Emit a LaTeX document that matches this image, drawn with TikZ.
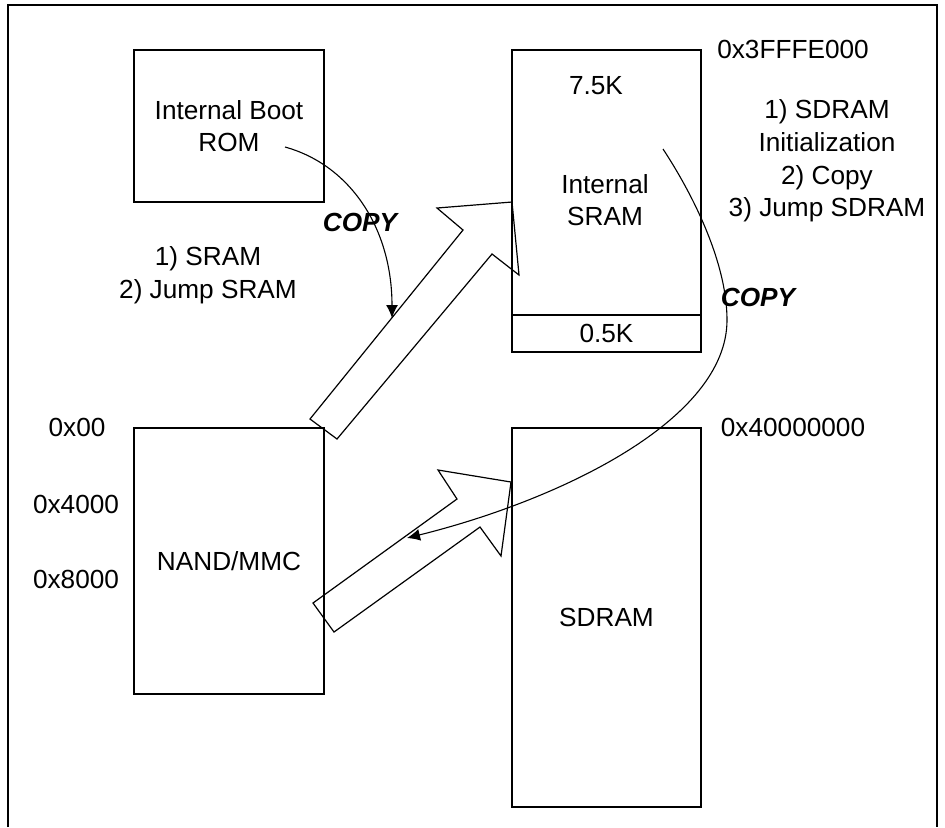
\documentclass[tikz,border=0pt]{standalone}
\usepackage{fontspec}
\setmainfont{Liberation Sans}
\usetikzlibrary{arrows.meta}
\newcommand{\labelsize}{\fontsize{13.1pt}{16.3pt}\selectfont}
\tikzset{
  membox/.style={draw,line width=0.8pt,inner sep=0pt,align=center},
  flow/.style={line width=0.55pt,-{Latex[length=6.5pt,width=6pt]}},
  bigarrow/.style={line width=0.6pt,line join=miter},
  copylabel/.style={font=\labelsize\bfseries\itshape},
}
\begin{document}
\begin{tikzpicture}[x=0.5pt,y=-0.5pt,font=\labelsize]
    \useasboundingbox (0,0) rectangle (945,827);
    % frame
    \draw[line width=1.2pt] (8,827) -- (8,5) -- (937,5) -- (937,827);
    % memories
    \node[membox,minimum width=95pt,minimum height=76pt] (rom) at (229,126) {Internal Boot\\ROM};
    \node[membox,minimum width=94.5pt,minimum height=132.5pt] (sram) at (606.5,182.5) {};
    \node[membox,minimum width=94.5pt,minimum height=18.5pt] (sramlow) at (606.5,333.5) {0.5K};
    \node[membox,minimum width=95pt,minimum height=133pt] (nand) at (229,561) {NAND/MMC};
    \node[membox,minimum width=94.5pt,minimum height=189.5pt] (sdram) at (606.5,617.5) {SDRAM};
    \node (sramtop) at (596,86) {7.5K};
    \node[align=center] (sramname) at (605,200) {Internal\\SRAM};
    % addresses
    \node (addrsram) at (793,49) {0x3FFFE000};
    \node (addrsdram) at (793,427) {0x40000000};
    \node (addrzero) at (77,427) {0x00};
    \node (addrfour) at (76,504) {0x4000};
    \node (addreight) at (76,579) {0x8000};
    % steps
    \node[align=center] (stepsrom) at (208,275) {1) SRAM\\2) Jump SRAM};
    \node[align=center] (stepssram) at (827,161) {1) SDRAM\\Initialization\\2) Copy\\3) Jump SDRAM};
    \node[copylabel] (copyrom) at (360,222) {COPY};
    \node[copylabel] (copysram) at (758,297) {COPY};
    % block arrows
    \draw[bigarrow] (310,419) -- (463,230) -- (437,208) -- (512,202) -- (519,275)
      -- (492,254) -- (337,439) -- cycle;
    \draw[bigarrow] (313,603) -- (457,499) -- (438,470) -- (511,482) -- (501,556)
      -- (480,527) -- (334,632) -- cycle;
    % copy paths
    \coordinate (romout) at (285,147);
    \coordinate (sramin) at (392,318);
    \draw[flow] (romout) .. controls (350,165) and (392,228) .. (sramin);
    \coordinate (sramout) at (663,149);
    \coordinate (sdramin) at (407,538);
    \draw[flow] (sramout) .. controls (690,190) and (727,260) .. (727,320)
      .. controls (727,420) and (560,500) .. (sdramin);
\end{tikzpicture}
\end{document}
